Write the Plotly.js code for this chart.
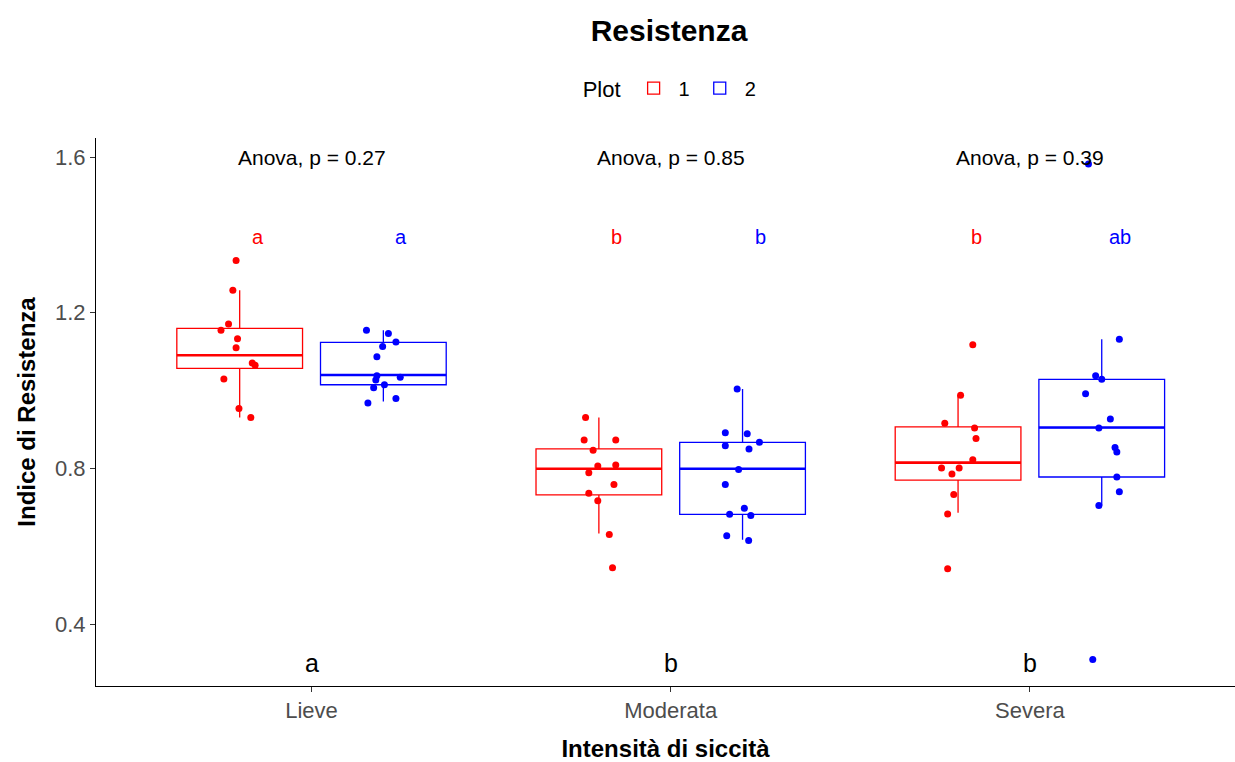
<!DOCTYPE html>
<html>
<head>
<meta charset="utf-8">
<script src="https://cdn.plot.ly/plotly-3.0.1.min.js"></script>
<style>html,body{margin:0;padding:0;background:#fff;}#chart{width:1235px;height:762px;}</style>
</head>
<body>
<div id="chart"></div>
<script>
// ---- data ----
const categories = ["Lieve", "Moderata", "Severa"];
const plotNames = ["1", "2"];
const pValues = ["0.27", "0.85", "0.39"];
const lettersPlot1 = ["a", "b", "b"];
const lettersPlot2 = ["a", "b", "ab"];
const lettersOverall = ["a", "b", "b"];

// box statistics (per category)
const p1Q1 = [1.057, 0.732, 0.770];
const p1Median = [1.091, 0.799, 0.815];
const p1Q3 = [1.160, 0.850, 0.907];
const p1Low = [0.931, 0.633, 0.686];
const p1High = [1.258, 0.931, 0.988];

const p2Q1 = [1.015, 0.682, 0.778];
const p2Median = [1.040, 0.799, 0.905];
const p2Q3 = [1.124, 0.867, 1.029];
const p2Low = [0.972, 0.617, 0.705];
const p2High = [1.155, 1.004, 1.132];

// individual observations (jittered horizontally as in the reference)
const p1Cat = ["Lieve","Lieve","Lieve","Lieve","Lieve","Lieve","Lieve","Lieve","Lieve","Lieve","Lieve",
  "Moderata","Moderata","Moderata","Moderata","Moderata","Moderata","Moderata","Moderata","Moderata","Moderata","Moderata","Moderata",
  "Severa","Severa","Severa","Severa","Severa","Severa","Severa","Severa","Severa","Severa","Severa","Severa"];
const p1Val = [1.334,1.258,1.171,1.155,1.133,1.110,1.071,1.065,1.030,0.954,0.931,
  0.931,0.873,0.873,0.847,0.806,0.809,0.789,0.759,0.736,0.717,0.630,0.545,
  1.118,0.988,0.916,0.904,0.877,0.822,0.801,0.801,0.786,0.733,0.683,0.542];
const p1Jit = [-0.010,-0.019,-0.031,-0.052,-0.006,-0.010,0.035,0.043,-0.044,-0.002,0.031,
  -0.037,-0.041,0.047,-0.016,-0.003,0.047,-0.028,0.042,-0.028,-0.003,0.029,0.038,
  0.041,0.007,-0.037,0.046,0.050,0.041,-0.046,0.003,-0.017,-0.012,-0.029,-0.029];

const p2Cat = ["Lieve","Lieve","Lieve","Lieve","Lieve","Lieve","Lieve","Lieve","Lieve","Lieve","Lieve","Lieve",
  "Moderata","Moderata","Moderata","Moderata","Moderata","Moderata","Moderata","Moderata","Moderata","Moderata","Moderata","Moderata","Moderata",
  "Severa","Severa","Severa","Severa","Severa","Severa","Severa","Severa","Severa","Severa","Severa","Severa","Severa"];
const p2Val = [1.155,1.147,1.125,1.113,1.087,1.038,1.034,1.027,1.015,1.007,0.980,0.968,
  1.004,0.892,0.889,0.867,0.858,0.850,0.797,0.759,0.698,0.682,0.679,0.627,0.615,
  1.582,1.132,1.038,1.029,0.992,0.927,0.904,0.854,0.842,0.778,0.740,0.705,0.309];
const p2Jit = [-0.047,0.014,0.035,-0.002,-0.018,-0.018,0.047,-0.021,0.003,-0.027,0.035,-0.043,
  -0.015,-0.048,0.013,0.047,-0.048,0.018,-0.011,-0.048,0.005,-0.036,0.023,-0.044,0.017,
  -0.037,0.049,-0.017,0,-0.045,0.024,-0.008,0.037,0.042,0.042,0.049,-0.008,-0.025];

// ---- styling ----
const RED = "#FF0000", BLUE = "#0000FF";
const FONT = "Liberation Sans, Arial, sans-serif";
const DODGE = 0.2, BOXW = 0.35, LETTER_SHIFT = 0.05;

const idx = categories.map((c, i) => i);
const pos1 = idx.map(i => i - DODGE);
const pos2 = idx.map(i => i + DODGE);

function medianSegs(pos, med) {
  const xs = [], ys = [];
  pos.forEach((p, i) => { xs.push(p - BOXW / 2, p + BOXW / 2, null); ys.push(med[i], med[i], null); });
  return {x: xs, y: ys};
}

const m1 = medianSegs(pos1, p1Median);
const m2 = medianSegs(pos2, p2Median);

const traces = [
  {type: "box", name: plotNames[0], legendgroup: "1", x: pos1, q1: p1Q1, median: p1Median, q3: p1Q3,
   lowerfence: p1Low, upperfence: p1High, width: BOXW, boxpoints: false, whiskerwidth: 0,
   line: {color: RED, width: 1.3}, fillcolor: "rgba(255,255,255,0)", hoverinfo: "skip"},
  {type: "box", name: plotNames[1], legendgroup: "2", x: pos2, q1: p2Q1, median: p2Median, q3: p2Q3,
   lowerfence: p2Low, upperfence: p2High, width: BOXW, boxpoints: false, whiskerwidth: 0,
   line: {color: BLUE, width: 1.3}, fillcolor: "rgba(255,255,255,0)", hoverinfo: "skip"},
  {type: "scatter", mode: "lines", x: m1.x, y: m1.y, line: {color: RED, width: 2.6}, showlegend: false, hoverinfo: "skip", connectgaps: false},
  {type: "scatter", mode: "lines", x: m2.x, y: m2.y, line: {color: BLUE, width: 2.6}, showlegend: false, hoverinfo: "skip", connectgaps: false},
  {type: "scatter", mode: "markers", x: p1Cat.map((c, i) => categories.indexOf(c) - DODGE + p1Jit[i]), y: p1Val,
   marker: {color: RED, size: 7}, showlegend: false},
  {type: "scatter", mode: "markers", x: p2Cat.map((c, i) => categories.indexOf(c) + DODGE + p2Jit[i]), y: p2Val,
   marker: {color: BLUE, size: 7}, showlegend: false}
];

const annotations = [];
idx.forEach(i => {
  annotations.push({x: i, y: 1.6, xref: "x", yref: "y", text: "Anova, p = " + pValues[i], showarrow: false,
    font: {family: FONT, size: 21, color: "#000"}, yanchor: "middle"});
  annotations.push({x: pos1[i] + LETTER_SHIFT, y: 1.395, xref: "x", yref: "y", text: lettersPlot1[i], showarrow: false,
    font: {family: FONT, size: 20, color: RED}, yanchor: "middle"});
  annotations.push({x: pos2[i] + LETTER_SHIFT, y: 1.395, xref: "x", yref: "y", text: lettersPlot2[i], showarrow: false,
    font: {family: FONT, size: 20, color: BLUE}, yanchor: "middle"});
  annotations.push({x: i, y: 0.3, xref: "x", yref: "y", text: lettersOverall[i], showarrow: false,
    font: {family: FONT, size: 25, color: "#000"}, yanchor: "middle"});
});

const layout = {
  width: 1235, height: 762,
  paper_bgcolor: "#fff", plot_bgcolor: "#fff",
  margin: {l: 96, r: 0, t: 138, b: 76},
  font: {family: FONT, color: "#000"},
  title: {text: "<b>Resistenza</b>", font: {family: FONT, size: 30, color: "#000"},
    xref: "container", yref: "container", x: 669 / 1235, y: 1 - 30 / 762, xanchor: "center", yanchor: "middle"},
  showlegend: true,
  legend: {orientation: "h", x: 0.505, xanchor: "center", y: 1.091, yanchor: "middle",
    title: {text: "Plot", side: "left", font: {family: FONT, size: 22, color: "#000"}},
    font: {family: FONT, size: 20, color: "#000"}, itemwidth: 40},
  xaxis: {range: [-0.6, 2.571], tickvals: idx, ticktext: categories, showgrid: false, zeroline: false,
    showline: true, linecolor: "#000", linewidth: 1, ticks: "outside", ticklen: 5, tickcolor: "#333",
    tickfont: {family: FONT, size: 22, color: "#4D4D4D"},
    title: {text: "<b>Intensità di siccità</b>", font: {family: FONT, size: 24, color: "#000"}, standoff: 19}},
  yaxis: {range: [0.241, 1.649], tickvals: [0.4, 0.8, 1.2, 1.6], ticktext: ["0.4", "0.8", "1.2", "1.6"],
    showgrid: false, zeroline: false, showline: true, linecolor: "#000", linewidth: 1,
    ticks: "outside", ticklen: 5, tickcolor: "#333",
    tickfont: {family: FONT, size: 22, color: "#4D4D4D"},
    title: {text: "<b>Indice di Resistenza</b>", font: {family: FONT, size: 24, color: "#000"}, standoff: 12}},
  annotations: annotations
};

Plotly.newPlot("chart", traces, layout, {displayModeBar: false, staticPlot: true});
</script>
</body>
</html>
